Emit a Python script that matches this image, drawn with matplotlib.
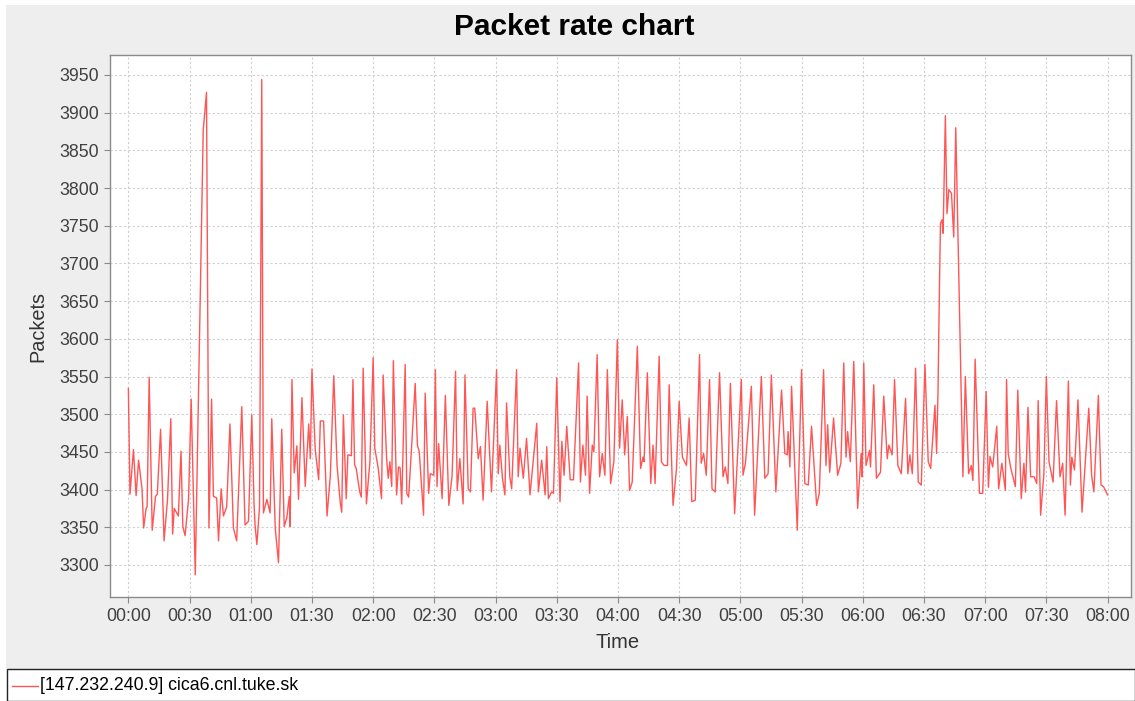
import matplotlib
matplotlib.use("Agg")
import matplotlib.pyplot as plt
from matplotlib.patches import Rectangle
from matplotlib.lines import Line2D
import numpy as np

############################
# DATA
############################
# minutes after 00:00
minutes = [
    0, 0.8, 2.5, 3.8, 5, 6.7, 7.5, 8.7, 9.2, 10.2, 11.7, 13.3, 14.2, 15.8, 17.5,
    19.2, 20.8, 21.7, 22.5, 24.5, 25.8, 26.7, 27.8, 29.5, 30.8, 32.8, 36.7, 38.3,
    39.5, 40.8, 41.7, 43.3, 44.2, 45.5,
    46.6, 48.2, 49.8, 51.5, 53.1, 55.6, 57.2, 58.9, 60.5, 61.6, 62.1, 63.0, 64.3,
    65.4, 66.2, 67.9, 69.5, 70.3, 72.0, 73.6, 75.2, 76.4, 77.7, 78.9, 79.3, 80.2,
    81.3, 82.6, 83.4, 85.1, 86.7, 88.4, 89.2, 90.0, 91.6, 93.3, 94.1, 95.7, 97.4,
    99.0, 100.7, 102.3, 103.9, 104.6,
    105.4, 106.8, 107.6, 109.3, 110.1, 110.9, 111.7, 113.4, 114.2, 115.1, 116.7,
    118.4, 120.0, 120.8, 122.5, 124.1, 124.9, 126.6, 127.4, 128.2, 129.1, 129.9,
    131.5, 132.4, 133.2, 134.0, 135.7, 136.5, 137.4, 139.0, 140.6, 141.7, 142.6,
    144.7, 145.5, 147.2, 148.0, 149.7, 150.5, 151.3, 152.1, 153.8, 155.4, 157.1,
    158.7, 160.4, 161.2, 162.5,
    164.1, 165.0, 166.6, 167.7, 169.0, 169.8, 171.5, 172.6, 173.9, 175.9, 178.0,
    180.5, 181.3, 182.1, 183.4, 184.6, 185.4, 187.0, 187.9, 190.3, 191.1, 192.0,
    193.6, 195.2, 196.9, 200.2, 201.0, 202.6, 204.3, 205.1, 205.9, 207.5, 208.4,
    210.0, 211.6, 212.5, 213.6, 214.9, 216.6, 218.2, 220.7,
    221.6, 222.8, 224.1, 224.9, 226.1, 227.4, 228.2, 229.8, 231.0, 232.3, 233.6,
    234.8, 236.4, 238.0, 239.7, 240.8, 242.1, 243.3, 244.6, 245.7, 247.0, 249.5,
    251.1, 252.3, 252.8, 254.4, 256.1, 257.2, 258.2, 260.2, 261.3, 262.6, 264.3,
    265.1, 267.0, 268.7, 270.0, 271.6, 273.6, 274.9, 276.2, 277.9,
    280.0, 280.8, 282.0, 283.3, 284.9, 286.1, 287.7, 289.8, 291.5, 292.6, 293.9,
    295.1, 297.2, 300.5, 301.3, 302.5, 305.4, 307.0, 310.3, 312.0, 313.6, 315.2,
    317.4, 320.2, 321.8, 323.0, 323.4, 324.3, 325.1, 327.9, 330.0, 331.6, 333.3,
    334.9, 337.4, 338.7,
    340.8, 342.0, 342.8, 343.8, 345.7, 347.7, 349.3, 350.7, 351.8, 352.6, 353.9,
    355.6, 357.5, 359.2, 359.7, 360.5, 361.6, 363.3, 363.8, 365.4, 366.7, 368.7,
    370.3, 372.0, 372.8, 374.4, 375.6, 377.2, 378.9, 381.0, 382.1, 383.1, 384.3,
    385.9, 387.2, 388.7, 390.5, 392.1, 393.3, 395.4, 396.2, 396.9, 397.5,
    398.1, 398.9, 399.4, 400.5, 401.3, 402.2, 403.5, 404.6, 405.6, 409.1, 410.3,
    411.9, 413.2, 414.0, 415.1, 417.2, 418.8, 420.5, 421.6, 422.4, 423.7, 425.7,
    426.6, 428.2, 429.9, 430.5,
    431.3, 432.6, 434.8, 436.0, 437.7, 439.0, 439.8, 441.0, 442.3, 444.0, 445.3,
    446.0, 447.2, 448.8, 450.0, 451.3, 453.3, 455.0, 456.7, 458.0, 459.2, 460.8,
    461.8, 462.5, 463.8, 465.5, 467.5, 470.8, 472.2, 473.3, 475.5, 476.8, 478.0,
    480.0,
]

packets = [
    3534, 3394, 3453, 3392, 3439, 3401, 3349, 3375, 3377, 3549, 3346, 3391, 3394, 3480, 3332,
    3387, 3494, 3341, 3375, 3365, 3451, 3351, 3339, 3387, 3520, 3287, 3877, 3927,
    3349, 3520, 3391, 3389, 3332, 3401,
    3365, 3377, 3487, 3349, 3332, 3510, 3353, 3358, 3499, 3382, 3353, 3327, 3377,
    3944, 3369, 3387, 3369, 3494, 3349, 3303, 3480, 3351, 3363, 3391, 3351, 3546,
    3422, 3458, 3387, 3522, 3404, 3487, 3441, 3560, 3453, 3413, 3491, 3491, 3365,
    3418, 3551, 3432, 3382, 3370,
    3499, 3388, 3446, 3445, 3546, 3433, 3428, 3397, 3390, 3561, 3381,
    3437, 3575, 3455, 3428, 3388, 3552, 3441, 3415, 3437, 3404, 3571,
    3393, 3430, 3429, 3381, 3566, 3395, 3390, 3464, 3541, 3459, 3450,
    3366, 3528, 3395, 3421, 3419, 3559, 3404, 3461, 3388, 3525, 3379,
    3419, 3557, 3399, 3441,
    3381, 3552, 3401, 3397, 3508, 3508, 3441, 3457, 3386, 3517, 3397,
    3559, 3421, 3459, 3415, 3393, 3515, 3417, 3401, 3559, 3417, 3455,
    3415, 3468, 3393, 3488, 3397, 3439, 3393, 3457, 3388, 3397, 3395,
    3548, 3384, 3464, 3419, 3484, 3413, 3413, 3568,
    3410, 3459, 3419, 3524, 3395, 3459, 3450, 3579, 3417, 3448, 3419,
    3559, 3408, 3437, 3599, 3455, 3519, 3446, 3497, 3399, 3410, 3590,
    3428, 3443, 3437, 3555, 3408, 3459, 3408, 3577, 3437, 3432, 3432,
    3539, 3379, 3428, 3517, 3443, 3432, 3495, 3384, 3386,
    3579, 3435, 3448, 3419, 3546, 3401, 3397, 3555, 3417, 3430, 3408,
    3541, 3368, 3546, 3419, 3435, 3537, 3366, 3550, 3415, 3421, 3552,
    3397, 3532, 3448, 3446, 3477, 3430, 3537, 3346, 3559, 3408, 3406,
    3484, 3379, 3395,
    3559, 3432, 3486, 3423, 3495, 3419, 3435, 3568, 3443, 3477, 3437,
    3570, 3375, 3448, 3417, 3568, 3432, 3452, 3430, 3539, 3415, 3423,
    3524, 3441, 3459, 3446, 3546, 3432, 3421, 3521, 3421, 3446, 3421,
    3561, 3410, 3406, 3566, 3437, 3428, 3512, 3448, 3530, 3650,
    3753, 3758, 3740, 3896, 3766, 3798, 3793, 3735, 3880, 3417, 3550,
    3421, 3432, 3412, 3573, 3395, 3395, 3530, 3403, 3444, 3430, 3484,
    3401, 3435, 3399, 3546,
    3448, 3428, 3404, 3532, 3388, 3435, 3397, 3509, 3417, 3417, 3408,
    3518, 3366, 3421, 3550, 3437, 3410, 3518, 3417, 3435, 3366, 3544,
    3406, 3443, 3426, 3519, 3370, 3508, 3419, 3397, 3525, 3406, 3404,
    3393,
]

y_ticks = list(range(3300, 3951, 50))
x_ticks = list(range(0, 481, 30))
x_tick_labels = [f"{m // 60:02d}:{m % 60:02d}" for m in x_ticks]
series_name = "[147.232.240.9] cica6.cnl.tuke.sk"

############################
# FIGURE
############################
W, H = 1135, 701
FONT = "Liberation Sans"
LINE_COLOR = "#FF5555"

fig = plt.figure(figsize=(W / 100, H / 100), dpi=100, facecolor="white")

# grey chart background (legend strip at the bottom stays white)
fig.add_artist(Rectangle((6 / W, 1 - 669 / H), (W - 6) / W, (669 - 5) / H,
                         transform=fig.transFigure, facecolor="#EEEEEE",
                         edgecolor="none", zorder=0))

ax = fig.add_axes([110 / W, 1 - 597 / H, 1021 / W, 542 / H])
ax.set_facecolor("white")
ax.plot(minutes, packets, color=LINE_COLOR, lw=1.0, zorder=3)

ax.set_xlim(-9, 491.5)
ax.set_ylim(3257.5, 3976.5)
ax.set_xticks(x_ticks)
ax.set_xticklabels(x_tick_labels)
ax.set_yticks(y_ticks)

ax.grid(True, color="#CFCFCF", linestyle=(0, (2, 2)), linewidth=0.8)
ax.set_axisbelow(True)
for sp in ax.spines.values():
    sp.set_color("#8A8A8A")
    sp.set_linewidth(1.0)

ax.tick_params(direction="out", length=4, width=0.8, color="#8A8A8A",
               labelcolor="#404040", labelsize=12.8, pad=4)
for lbl in ax.get_xticklabels() + ax.get_yticklabels():
    lbl.set_fontfamily(FONT)

fig.text(574.5 / W, 1 - 27 / H, "Packet rate chart", ha="center", va="center",
         fontsize=21.5, fontweight="bold", family=FONT, color="black")
fig.text(38 / W, 1 - 326 / H, "Packets", ha="center", va="center",
         rotation=90, fontsize=14.3, family=FONT, color="#333333")
fig.text(618 / W, 1 - 643 / H, "Time", ha="center", va="center",
         fontsize=14.5, family=FONT, color="#333333")

# legend box
fig.add_artist(Rectangle((7 / W, 0), (W - 7) / W, (701 - 669) / H,
                         transform=fig.transFigure, facecolor="white",
                         edgecolor="#222222", linewidth=1.0, zorder=1))
fig.add_artist(Line2D([12 / W, 38 / W], [1 - 686 / H, 1 - 686 / H],
                      transform=fig.transFigure, color=LINE_COLOR, lw=1.0, zorder=2))
fig.text(40 / W, 1 - 686 / H, series_name, ha="left", va="center",
         fontsize=12.8, family=FONT, color="black", zorder=2)

fig.savefig("out.png", dpi=100, facecolor=fig.get_facecolor())
